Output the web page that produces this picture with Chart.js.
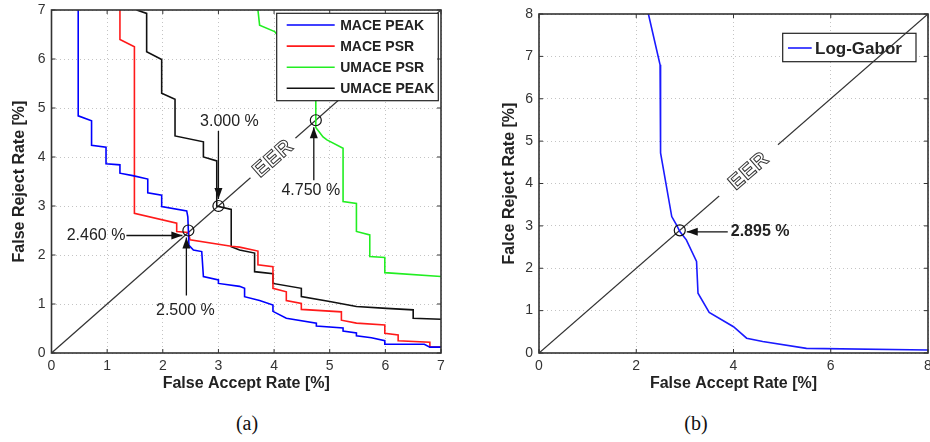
<!DOCTYPE html>
<html>
<head>
<meta charset="utf-8">
<script src="https://cdn.jsdelivr.net/npm/chart.js@4.4.1/dist/chart.umd.min.js"></script>
<style>
  body { margin: 0; width: 930px; height: 442px; background: #fff; position: relative; overflow: hidden; }
  canvas { position: absolute; top: 0; }
  #chartA { left: 0; }
  #chartB { left: 490px; }
  .cap { position: absolute; top: 412px; font: 20px "Liberation Serif", serif; color: #111; transform: translateX(-50%); }
</style>
</head>
<body>
<canvas id="chartA" width="460" height="400"></canvas>
<canvas id="chartB" width="440" height="400"></canvas>
<div class="cap" style="left:247px">(a)</div>
<div class="cap" style="left:696px">(b)</div>

<script>
// (a) curves: [False Accept Rate %, False Reject Rate %]
const macePeak = [[0.48,7],[0.48,4.84],[0.72,4.74],[0.72,4.24],[0.98,4.2],[0.98,3.86],[1.23,3.84],[1.23,3.67],
  [1.46,3.62],[1.73,3.55],[1.73,3.27],[1.98,3.22],[1.98,2.99],[2.43,2.9],[2.45,2.78],[2.47,2.2],[2.55,2.1],
  [2.7,2.07],[2.73,1.56],[3.0,1.49],[3.0,1.42],[3.38,1.36],[3.47,1.32],[3.47,1.15],[3.74,1.07],[3.98,0.98],
  [3.98,0.85],[4.22,0.71],[4.76,0.61],[4.76,0.55],[5.24,0.51],[5.24,0.45],[5.48,0.41],[5.48,0.35],[5.75,0.31],
  [5.99,0.25],[5.99,0.18],[6.7,0.18],[6.8,0.12],[7,0.12]];
const macePsr = [[1.23,7],[1.23,6.4],[1.49,6.25],[1.49,2.85],[2.25,2.65],[2.25,2.48],[2.46,2.46],[2.49,2.31],
  [3.23,2.18],[3.38,2.16],[3.71,2.08],[3.71,1.8],[3.98,1.76],[3.98,1.32],[4.22,1.25],[4.22,1.07],[4.49,1.01],
  [4.49,0.89],[5.21,0.84],[5.21,0.67],[5.48,0.61],[5.99,0.57],[5.99,0.4],[6.23,0.37],[6.23,0.25],[6.8,0.22],
  [6.8,0.12],[7,0.12]];
const umacePsr = [[3.71,7],[3.74,6.69],[4.01,6.56],[4.4,6.0],[4.75,5.3],[4.75,4.6],[4.88,4.41],[4.95,4.35],
  [5.24,4.18],[5.24,3.09],[5.48,3.05],[5.48,2.48],[5.72,2.41],[5.72,1.97],[5.99,1.95],[5.99,1.64],[7,1.56]];
const umacePeak = [[1.53,7],[1.71,6.93],[1.71,6.15],[1.98,5.99],[1.98,5.3],[2.22,5.18],[2.22,4.43],[2.73,4.31],
  [2.73,4.0],[2.97,3.92],[2.97,3.0],[3.23,2.93],[3.23,2.17],[3.38,2.1],[3.65,2.04],[3.65,1.66],[3.98,1.62],
  [3.98,1.42],[4.49,1.32],[4.49,1.15],[5.0,1.05],[5.48,0.95],[6.02,0.91],[6.5,0.88],[6.5,0.71],[7,0.69]];
const eerA = [[2.46,2.5],[3.0,3.0],[4.75,4.75]];
const eerLabelsA = ["2.460 %", "2.500 %", "3.000 %", "4.750 %"];

// (b) curve
const logGabor = [[2.25,8],[2.49,6.8],[2.5,4.72],[2.73,3.22],[2.83,3.02],[2.9,2.86],[3.03,2.67],[3.24,2.16],
  [3.27,1.41],[3.5,0.96],[4.0,0.62],[4.27,0.35],[4.6,0.27],[5.5,0.11],[8,0.07]];
const eerB = [[2.895,2.895]];
const eerLabelsB = ["2.895 %"];

const SANS = '"Liberation Sans", Arial, sans-serif';

function series(label, pts, color) {
  return {
    label: label,
    data: pts.map((p) => ({ x: p[0], y: p[1] })),
    borderColor: color,
    borderWidth: 1.6,
    pointRadius: 0,
    tension: 0,
    fill: false,
  };
}

function axis(max, step, title, isY, size) {
  return {
    type: "linear",
    min: 0,
    max: max,
    ticks: { stepSize: step, color: "#333", font: { family: SANS, size: 14 }, padding: isY ? 6 : 5, maxRotation: 0 },
    grid: { color: "#c4c4c4", drawTicks: false, lineWidth: 1 },
    border: { display: false, dash: [1, 3] },
    title: {
      display: true,
      text: title,
      color: "#222",
      font: { family: SANS, size: 16, weight: "bold" },
      padding: isY ? { top: 10, bottom: 0 } : { top: 0, bottom: 7 },
    },
    afterFit: (s) => {
      // fixed axis boxes so the plot area lands where the figure has it
      if (isY) s.width = size;
      else s.height = size;
      s.paddingLeft = 0;
      s.paddingRight = 0;
      s.paddingTop = 0;
      s.paddingBottom = 0;
    },
  };
}

function arrowHead(ctx, x0, y0, x1, y1) {
  const a = Math.atan2(y1 - y0, x1 - x0);
  ctx.beginPath();
  ctx.moveTo(x1, y1);
  ctx.lineTo(x1 - 11 * Math.cos(a) + 4 * Math.sin(a), y1 - 11 * Math.sin(a) - 4 * Math.cos(a));
  ctx.lineTo(x1 - 11 * Math.cos(a) - 4 * Math.sin(a), y1 - 11 * Math.sin(a) + 4 * Math.cos(a));
  ctx.closePath();
  ctx.fill();
}

function drawLegend(chart, lg) {
  const { ctx, chartArea: a } = chart;
  const left = a.right - lg.right - lg.w;
  const top = a.top + lg.top;
  ctx.save();
  ctx.fillStyle = "#fff";
  ctx.fillRect(left, top, lg.w, lg.h);
  ctx.strokeStyle = "#222";
  ctx.lineWidth = 1.2;
  ctx.strokeRect(left, top, lg.w, lg.h);
  ctx.font = `bold ${lg.fontSize}px ${SANS}`;
  ctx.textBaseline = "middle";
  chart.data.datasets
    .filter((d) => !d.noLegend)
    .forEach((d, i) => {
      const yy = top + lg.first + i * lg.row;
      ctx.strokeStyle = d.borderColor;
      ctx.lineWidth = 1.6;
      ctx.beginPath();
      ctx.moveTo(left + lg.line[0], yy);
      ctx.lineTo(left + lg.line[1], yy);
      ctx.stroke();
      ctx.fillStyle = "#222";
      ctx.fillText(d.label, left + lg.text, yy + 1);
    });
  ctx.restore();
}

const decor = {
  id: "decor",
  beforeDatasetsDraw(chart, args, opts) {
    if (!opts.legend.onTop) drawLegend(chart, opts.legend);
  },
  afterDatasetsDraw(chart, args, opts) {
    const { ctx, chartArea: a, scales } = chart;
    const x = scales.x, y = scales.y;
    ctx.save();

    // EER label sitting in a gap of the diagonal
    const ex = x.getPixelForValue(opts.eerAt);
    const ey = y.getPixelForValue(opts.eerAt);
    const ang = Math.atan2(y.getPixelForValue(1) - y.getPixelForValue(0), x.getPixelForValue(1) - x.getPixelForValue(0));
    ctx.save();
    ctx.translate(ex, ey);
    ctx.rotate(ang);
    ctx.fillStyle = "#fff";
    ctx.fillRect(-opts.eerGap / 2, -3, opts.eerGap, 6);
    ctx.font = `bold 21px ${SANS}`;
    ctx.textAlign = "center";
    ctx.textBaseline = "middle";
    ctx.letterSpacing = "1px";
    ctx.fillText("EER", 0, 1);
    ctx.strokeStyle = "#333";
    ctx.lineWidth = 1;
    ctx.strokeText("EER", 0, 1);
    ctx.restore();

    // EER points with arrows and values
    ctx.strokeStyle = "#111";
    ctx.fillStyle = "#111";
    opts.marks.forEach((m) => {
      const cx = x.getPixelForValue(m.at[0]);
      const cy = y.getPixelForValue(m.at[1]);
      ctx.lineWidth = 1.2;
      ctx.beginPath();
      ctx.arc(cx, cy, 5.5, 0, Math.PI * 2);
      ctx.stroke();
      m.arrows.forEach((ar) => {
        const x0 = cx + ar.tail[0], y0 = cy + ar.tail[1];
        const x1 = cx + ar.tip[0], y1 = cy + ar.tip[1];
        ctx.lineWidth = 1.3;
        ctx.beginPath();
        ctx.moveTo(x0, y0);
        ctx.lineTo(x1, y1);
        ctx.stroke();
        arrowHead(ctx, x0, y0, x1, y1);
        ctx.font = `${opts.boldText ? "bold " : ""}16px ${SANS}`;
        ctx.textAlign = ar.align;
        ctx.textBaseline = "middle";
        ctx.fillStyle = "#222";
        ctx.fillText(ar.text, cx + ar.txt[0], cy + ar.txt[1]);
        ctx.fillStyle = "#111";
      });
    });
    ctx.restore();

    if (opts.legend.onTop) drawLegend(chart, opts.legend);

    // plot frame with inward ticks
    ctx.save();
    ctx.strokeStyle = "#333";
    ctx.lineWidth = 1;
    x.ticks.forEach((t) => {
      const px = x.getPixelForValue(t.value);
      ctx.beginPath();
      ctx.moveTo(px, a.bottom); ctx.lineTo(px, a.bottom - 4);
      ctx.moveTo(px, a.top); ctx.lineTo(px, a.top + 4);
      ctx.stroke();
    });
    y.ticks.forEach((t) => {
      const py = y.getPixelForValue(t.value);
      ctx.beginPath();
      ctx.moveTo(a.left, py); ctx.lineTo(a.left + 4, py);
      ctx.moveTo(a.right, py); ctx.lineTo(a.right - 4, py);
      ctx.stroke();
    });
    ctx.lineWidth = 1.6;
    ctx.strokeRect(a.left, a.top, a.right - a.left, a.bottom - a.top);
    ctx.restore();
  },
};

function makeChart(id, datasets, xs, ys, padding, decorOpts) {
  return new Chart(document.getElementById(id), {
    type: "line",
    data: { datasets: datasets },
    options: {
      responsive: false,
      animation: false,
      layout: { padding: padding },
      scales: { x: xs, y: ys },
      plugins: { legend: { display: false }, tooltip: { enabled: false }, decor: decorOpts },
    },
    plugins: [decor],
  });
}

const diagA = Object.assign(series("EER", [[0, 0], [7, 7]], "#333"), { borderWidth: 1.3, noLegend: true });
makeChart(
  "chartA",
  [
    series("MACE PEAK", macePeak, "#0000ff"),
    series("MACE PSR", macePsr, "#ff1a1a"),
    series("UMACE PSR", umacePsr, "#22ee22"),
    series("UMACE PEAK", umacePeak, "#111"),
    diagA,
  ],
  axis(7, 1, "False Accept Rate [%]", false, 47),
  axis(7, 1, "False Reject Rate [%]", true, 51.5),
  { left: 0, top: 10, right: 19, bottom: 0 },
  {
    eerAt: 3.98,
    eerGap: 60,
    boldText: false,
    legend: { onTop: true, right: 2.7, top: 3.3, w: 161.6, h: 87.4, first: 11.7, row: 21.1, line: [10, 58], text: 63.5, fontSize: 14 },
    marks: [
      { at: eerA[0], arrows: [
        { text: eerLabelsA[0], tail: [-62, 5], tip: [-6, 5], txt: [-63, 5.5], align: "right" },
        { text: eerLabelsA[1], tail: [-2, 65], tip: [-2, 7], txt: [-3, 80], align: "center" },
      ] },
      { at: eerA[1], arrows: [{ text: eerLabelsA[2], tail: [0, -75], tip: [0, -7], txt: [11, -84], align: "center" }] },
      { at: eerA[2], arrows: [{ text: eerLabelsA[3], tail: [-2, 60], tip: [-2, 7], txt: [-5, 70], align: "center" }] },
    ],
  }
);

const diagB = Object.assign(series("EER", [[0, 0], [8, 8]], "#333"), { borderWidth: 1.3, noLegend: true });
makeChart(
  "chartB",
  [series("Log-Gabor", logGabor, "#1a1aff"), diagB],
  axis(8, 2, "False Accept Rate [%]", false, 47),
  axis(8, 1, "Falce Reject Rate [%]", true, 49),
  { left: 0, top: 14, right: 2, bottom: 0 },
  {
    eerAt: 4.31,
    eerGap: 78,
    boldText: true,
    legend: { onTop: false, right: 12, top: 19.3, w: 133.3, h: 28.4, first: 14.7, row: 21, line: [5.3, 29], text: 32.3, fontSize: 17 },
    marks: [
      { at: eerB[0], arrows: [{ text: eerLabelsB[0], tail: [48, 1.5], tip: [7, 1.5], txt: [51, 1.5], align: "left" }] },
    ],
  }
);
</script>
</body>
</html>
